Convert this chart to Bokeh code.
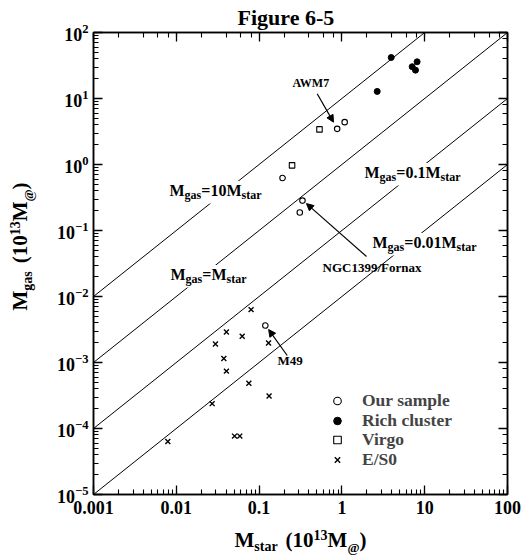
import math
from bokeh.plotting import figure
from bokeh.layouts import row, column
from bokeh.models import (LogAxis, LogTicker, Label, Arrow, NormalHead, Legend, LegendItem,
                          CustomJSTickFormatter, BoxAnnotation, Title)
from bokeh.embed import file_html
from bokeh.resources import INLINE

# ---------------- data ----------------
x_range_ends = [1e-3, 1e2]
y_range_ends = [1e-5, 1e2]
x_tick_labels = ["0.001", "0.01", "0.1", "1", "10", "100"]

ratios = [10, 1, 0.1, 0.01]
ratio_texts = ["10", "", "0.1", "0.01"]

our_x = [0.877, 1.08, 0.192, 0.334, 0.31, 0.119]
our_y = [3.47, 4.38, 0.625, 0.284, 0.187, 0.00363]

rich_x = [3.94, 2.67, 8.1, 7.06, 7.74]
rich_y = [41.8, 12.8, 36.0, 30.3, 26.9]

virgo_x = [0.536, 0.25]
virgo_y = [3.40, 0.97]

es0_x = [0.080, 0.0403, 0.0625, 0.0297, 0.130, 0.0375, 0.0403, 0.0752, 0.132,
         0.0271, 0.0505, 0.0585, 0.0079]
es0_y = [0.00633, 0.00290, 0.0025, 0.00191, 0.00198, 0.00115, 0.00074, 0.000484,
         0.000311, 0.000238, 7.67e-5, 7.67e-5, 6.37e-5]

legend_labels = ["Our sample", "Rich cluster", "Virgo", "E/S0"]

ann_names = ["AWM7", "NGC1399/Fornax", "M49"]
ann_index = [0, 3, 5]

title_text = "Figure 6-5"

# ---------------- layout helpers ----------------
FONT = "Liberation Serif"
MID = 0.3375  # baseline -> middle offset, in em
W = {' ': 250, '(': 333, ')': 333, '.': 250, '/': 278, '=': 570, '@': 930, '-': 333,
     'A': 722, 'C': 722, 'F': 611, 'G': 778, 'M': 944, 'N': 722, 'W': 1000,
     'a': 500, 'e': 444, 'g': 500, 'l': 278, 'm': 833, 'n': 556, 'o': 500,
     'p': 556, 'r': 444, 's': 389, 't': 333, 'u': 556, 'x': 500, 'i': 278}


def tw(t, size):
    return sum(W.get(c, 500) for c in t) * size / 1000.0


def label(fig, text, x, y, size, angle=0.0, align="left"):
    """(x, y) is the baseline anchor, in screen px relative to the frame."""
    if angle == 0.0:
        lx, ly = x, y + MID * size
    else:
        lx, ly = x - MID * size, y
    lab = Label(x=lx, y=ly, x_units="screen", y_units="screen", text=text,
                text_font=FONT, text_font_style="bold", text_font_size=f"{size}px",
                text_baseline="middle", text_align=align, text_color="black",
                angle=angle)
    fig.add_layout(lab)
    return lab


def rich(fig, pieces, x, y, align="left", vertical=False, bg=False):
    total = sum(tw(t, s) + g for t, s, dy, g in pieces)
    pos = y if vertical else x
    if align == "center":
        pos -= total / 2.0
    if bg:
        size = max(s for _, s, _, _ in pieces)
        box = BoxAnnotation(left=pos - 3, right=pos + total + 3, bottom=y - 8,
                            top=y + size * 0.72 + 3,
                            left_units="screen", right_units="screen",
                            bottom_units="screen", top_units="screen",
                            fill_color="white", fill_alpha=1.0, line_color=None)
        fig.add_layout(box)
    for t, s, dy, g in pieces:
        pos += g
        if vertical:
            label(fig, t, x - dy, pos, s, angle=math.pi / 2)
        else:
            label(fig, t, pos, y + dy, s)
        pos += tw(t, s)


def text_fig(w, h):
    f = figure(width=w, height=h, x_range=(0, 1), y_range=(0, 1),
               x_axis_location=None, y_axis_location=None, toolbar_location=None,
               output_backend="svg", min_border=0, title=None, frame_align=False)
    f.min_border_left = f.min_border_right = f.min_border_top = f.min_border_bottom = 0
    f.outline_line_color = None
    f.grid.visible = False
    f.background_fill_color = "white"
    f.border_fill_color = "white"
    return f


# ---------------- main plot ----------------
p = figure(width=485, height=526, x_axis_type="log", y_axis_type="log",
           x_range=tuple(x_range_ends), y_range=tuple(y_range_ends),
           min_border_left=53, min_border_right=18, min_border_top=30,
           min_border_bottom=32, toolbar_location=None, output_backend="svg",
           frame_align=False)
p.title = Title(text=title_text, align="left", offset=144, standoff=5,
                text_font=FONT, text_font_style="bold", text_font_size="22px",
                text_color="black")
p.grid.visible = False
p.outline_line_color = "black"
p.outline_line_width = 1.5
p.background_fill_color = "white"
p.border_fill_color = "white"

# diagonal lines
xs = [list(x_range_ends) for _ in ratios]
ys = [[r * v for v in x_range_ends] for r in ratios]
p.multi_line(xs=xs, ys=ys, line_color="black", line_width=1)

# axes
p.xaxis.formatter = CustomJSTickFormatter(
    args=dict(labels=x_tick_labels),
    code="const i = Math.round(Math.log10(tick)) + 3; return labels[i];")


def style_axis(ax, show_labels=True):
    ax.axis_line_color = "black"
    ax.axis_line_width = 1.5
    ax.major_tick_in = 9
    ax.major_tick_out = 0
    ax.minor_tick_in = 5
    ax.minor_tick_out = 0
    ax.major_tick_line_width = 1.3
    ax.minor_tick_line_width = 1.1
    ax.major_tick_line_color = "black"
    ax.minor_tick_line_color = "black"
    ax.major_label_text_font = FONT
    ax.major_label_text_font_style = "bold"
    ax.major_label_text_font_size = "18px"
    ax.major_label_text_color = "black"
    if not show_labels:
        ax.major_label_text_font_size = "0px"
        ax.major_label_standoff = 0


style_axis(p.xaxis[0])
style_axis(p.yaxis[0])
p.xaxis.major_label_standoff = 6
p.yaxis.major_label_standoff = 5

top = LogAxis(ticker=LogTicker(), formatter=CustomJSTickFormatter(code="return '';"))
right = LogAxis(ticker=LogTicker(), formatter=CustomJSTickFormatter(code="return '';"))
style_axis(top, False)
style_axis(right, False)
p.add_layout(top, "above")
p.add_layout(right, "right")

# line labels (white boxes break the lines)
line_label_pos = [(76, 299), (77, 215), (271, 317), (279, 247)]
for rt, (lx, ly) in zip(ratio_texts, line_label_pos):
    rich(p, [("M", 16, 0, 0), ("gas", 12, -4, 0), ("=" + rt + "M", 16, 0, 0),
             ("star", 12, -4, 0)], lx, ly, bg=True)

# data points
r_our = p.scatter(our_x, our_y, marker="circle", size=5.5, fill_color="white",
                  line_color="black", line_width=1.1)
r_rich = p.scatter(rich_x, rich_y, marker="circle", size=6, fill_color="black",
                   line_color="black")
r_virgo = p.scatter(virgo_x, virgo_y, marker="square", size=5.5, fill_color="white",
                    line_color="black", line_width=1.1)
r_es0 = p.scatter(es0_x, es0_y, marker="x", size=7, line_color="black", line_width=1.4)

# legend: one single-item legend per row to control the row pitch
legend_rows_y = [82.8, 63.3, 43.8, 24.3]
for lab_text, rend, ly in zip(legend_labels, [r_our, r_rich, r_virgo, r_es0], legend_rows_y):
    lg = Legend(items=[LegendItem(label=lab_text, renderers=[rend])],
                location=(234, ly), orientation="vertical",
                label_text_font=FONT, label_text_font_style="bold",
                label_text_font_size="17.5px",
                glyph_width=20, glyph_height=19, label_height=19, spacing=0,
                label_standoff=15, padding=0, margin=0, border_line_color=None,
                background_fill_alpha=0)
    p.add_layout(lg)

# annotations
ann_text_pos = [(199, 407.5, 12), (229, 222.5, 13), (184, 130, 13)]
ann_arrow_start = [(223.7, 400.7), (273, 238), (193.7, 139)]
ann_tip_factor = [(0.902, 1.262), (1.118, 0.90), (1.096, 0.87)]
for name, idx, (tx, ty, ts), (sx, sy), (fx, fy) in zip(ann_names, ann_index, ann_text_pos,
                                                        ann_arrow_start, ann_tip_factor):
    label(p, name, tx, ty, ts)
    p.add_layout(Arrow(end=NormalHead(size=7, fill_color="black", line_color="black",
                                      line_width=1),
                       x_start=sx, y_start=sy, start_units="screen",
                       x_end=our_x[idx] * fx, y_end=our_y[idx] * fy, end_units="data",
                       line_color="black", line_width=1.2))

# ---------------- axis titles (own strips) ----------------
xfig = text_fig(485, 30)
axis_pieces = [("M", 21, 0, 0), ("star", 14, -4, 0), ("(10", 21, 0, 8), ("13", 14, 8, 0),
               ("M", 21, 0, 0), ("@", 13, -4, 0), (")", 21, 0, 0)]
rich(xfig, axis_pieces, 260, 9, align="center")

yfig = text_fig(40, 556)
y_pieces = [("M", 21, 0, 0), ("gas", 14, -5, 0), ("(10", 21, 0, 8), ("13", 14, 8, 0),
            ("M", 21, 0, 0), ("@", 13, -5, 0), (")", 21, 0, 0)]
rich(yfig, y_pieces, 27, 310, align="center", vertical=True)

layout = row(yfig, column(p, xfig, spacing=0), spacing=0)
open("out.html", "w").write(file_html(layout, INLINE))
